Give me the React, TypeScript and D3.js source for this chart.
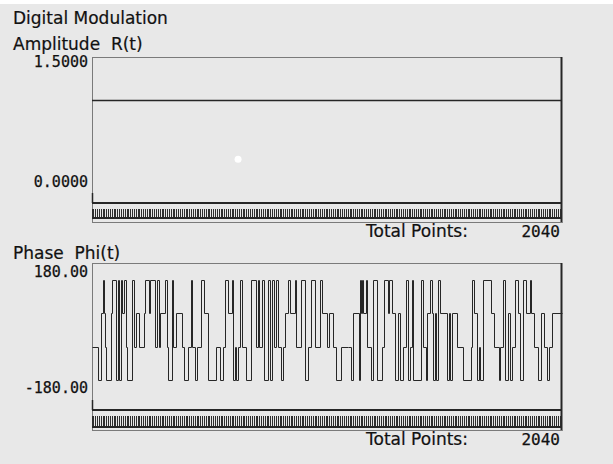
import React from "react";
import * as d3 from "d3";

const TOTAL_POINTS = 2040;
const amplitudeLevel = [1.0];
const amplitudeTicks = [1.5, 0.0];
const phaseTicks = [180, -180];
const whiteDot = [{ sample: 634, value: 0.31 }];

// [phase (deg), duration (samples)]
const phaseSegments: [number, number][] = [
  [-45, 25], [-135, 14], [45, 7], [135, 4], [45, 7], [-45, 3], [-135, 22], [45, 4], [135, 20],
  [-135, 6], [135, 6], [-135, 7], [135, 7], [45, 7], [135, 7], [-45, 7], [-135, 19], [135, 10],
  [-45, 7], [45, 14], [-45, 22], [45, 7], [135, 14], [45, 6], [135, 23], [-45, 7], [135, 7],
  [-45, 7], [45, 22], [135, 7], [-45, 7], [-135, 14], [135, 7], [-45, 10], [45, 29], [-45, 9],
  [-135, 17], [-45, 10], [135, 7], [-45, 12], [-135, 7], [-45, 17], [135, 14], [45, 19],
  [-135, 36], [-45, 14], [-135, 14], [-45, 10], [135, 12], [45, 17], [135, 7], [-135, 7],
  [-45, 4], [-135, 7], [-45, 12], [135, 7], [-45, 17], [-135, 22], [135, 22], [-45, 7],
  [135, 7], [-45, 10], [135, 12], [-135, 14], [135, 9], [-135, 9], [135, 9], [-45, 9],
  [135, 9], [-45, 12], [-135, 9], [-45, 9], [45, 14], [135, 7], [45, 22], [135, 7], [-45, 22],
  [135, 14], [-135, 14], [-45, 12], [135, 17], [-45, 25], [135, 7], [45, 22], [-45, 7],
  [45, 19], [-45, 14], [-135, 22], [-45, 29],
  [-45, 14], [-135, 7], [45, 25], [-135, 6], [135, 6], [45, 3], [135, 4], [45, 14], [135, 4],
  [-45, 17], [-135, 7], [135, 19], [-135, 20], [-45, 9], [135, 17], [45, 7], [135, 12],
  [45, 13], [-135, 12], [45, 12], [-135, 10], [-45, 14], [135, 7], [-135, 12], [-45, 6],
  [135, 7], [-135, 33], [135, 7], [-45, 14], [-135, 7], [45, 10], [135, 9], [45, 6],
  [-135, 7], [45, 7], [-135, 7], [135, 7], [45, 33], [-135, 7], [45, 7], [-135, 7], [45, 22],
  [-45, 26], [-135, 32], [-45, 7], [135, 7], [45, 14], [-135, 7], [-45, 7], [-135, 14],
  [135, 32], [45, 12], [-45, 22], [-135, 7], [-45, 14], [135, 7], [-135, 14], [45, 7],
  [-135, 7], [-45, 14], [135, 14], [45, 7], [-135, 14], [135, 12], [45, 17], [135, 7],
  [45, 14], [-45, 14], [-135, 14], [45, 14], [-45, 14], [-135, 7], [-45, 14], [45, 43],
];

const W = 613;
const H = 464;
const X0 = 92;
const X1 = 562;
const BG = "#e8e8e8";
const DARK = "#262626";
const TXT = "#111111";

const SANS = "'DejaVu Sans', sans-serif";
const MONO = "'DejaVu Sans Mono', monospace";

function Panel({
  top, bottom, domain, ticks, fmt, tickDy, children, stripe,
}: {
  top: number; bottom: number; domain: [number, number]; ticks: number[];
  fmt: (v: number) => string; tickDy: number[]; children: (y: d3.ScaleLinear<number, number>, x: d3.ScaleLinear<number, number>) => React.ReactNode;
  stripe: { barTop: number; barBottom: number; lineY: number; frameBottom: number; textY: number };
}) {
  const x = d3.scaleLinear().domain([0, TOTAL_POINTS]).range([X0, X1]);
  const y = d3.scaleLinear().domain(domain).range([bottom, top]);
  const barIdx = d3.range(0, TOTAL_POINTS, 8);
  return (
    <g>
      {ticks.map((t, i) => (
        <text key={i} x={88} y={y(t) + tickDy[i]} textAnchor="end" fontFamily={MONO} fontSize={15} fill={TXT} stroke={TXT} strokeWidth={0.25}>
          {fmt(t)}
        </text>
      ))}
      {/* frame */}
      <line x1={X0 + 0.5} x2={X0 + 0.5} y1={top} y2={stripe.frameBottom} stroke="#7a7a7a" />
      <line x1={X0} x2={X1} y1={top + 0.5} y2={top + 0.5} stroke="#7a7a7a" />
      <line x1={X1 - 0.5} x2={X1 - 0.5} y1={top} y2={stripe.frameBottom} stroke={DARK} strokeWidth={2} />
      <line x1={X0} x2={X1} y1={bottom} y2={bottom} stroke={DARK} strokeWidth={2} />
      <line x1={X0 + 0.5} x2={X0 + 0.5} y1={bottom - 10} y2={bottom} stroke={DARK} strokeWidth={1.5} />
      <g>{children(y, x)}</g>
      {/* stripe */}
      <g shapeRendering="crispEdges">
        {barIdx.map((i) => (
          <line key={i} x1={Math.floor(x(i)) + 0.5} x2={Math.floor(x(i)) + 0.5} y1={stripe.barTop} y2={stripe.barBottom} stroke="#2e2e2e" />
        ))}
      </g>
      <line x1={X0} x2={X1} y1={stripe.lineY} y2={stripe.lineY} stroke={DARK} strokeWidth={2} />
      <line x1={X0} x2={X1} y1={stripe.frameBottom - 0.5} y2={stripe.frameBottom - 0.5} stroke="#7a7a7a" />
      <text x={366} y={stripe.textY} fontFamily={SANS} fontSize={17} fill={TXT} stroke={TXT} strokeWidth={0.2}>Total Points:</text>
      <text x={560} y={stripe.textY} textAnchor="end" fontFamily={MONO} fontSize={16} fill={TXT} stroke={TXT} strokeWidth={0.25}>{TOTAL_POINTS}</text>
    </g>
  );
}

export default function App() {
  const pts: [number, number][] = [];
  let s = 0;
  for (const [p, d] of phaseSegments) {
    pts.push([s, p]);
    s += d;
  }
  pts.push([Math.max(s, TOTAL_POINTS), phaseSegments[phaseSegments.length - 1][0]]);

  return (
    <svg width={W} height={H} style={{ position: "absolute", left: 0, top: 0, background: BG }}>
      <rect x={0} y={0} width={W} height={H} fill={BG} />
      <rect x={0} y={0} width={W} height={4} fill="#ffffff" />
      <text x={13} y={24} fontFamily={SANS} fontSize={17} fill={TXT} stroke={TXT} strokeWidth={0.2}>Digital Modulation</text>
      <text x={13} y={50} fontFamily={SANS} fontSize={17} fill={TXT} stroke={TXT} strokeWidth={0.2} style={{ whiteSpace: "pre" }}>{"Amplitude  R(t)"}</text>
      <Panel
        top={57} bottom={203} domain={[-0.2, 1.5]} ticks={amplitudeTicks}
        fmt={(v) => v.toFixed(4)} tickDy={[10, 1]}
        stripe={{ barTop: 209, barBottom: 217, lineY: 218, frameBottom: 223, textY: 237 }}
      >
        {(y, x) => (
          <g>
            {amplitudeLevel.map((v, i) => (
              <line key={i} x1={x(0)} x2={x(TOTAL_POINTS)} y1={Math.round(y(v)) + 0.5} y2={Math.round(y(v)) + 0.5} stroke={DARK} strokeWidth={1.3} />
            ))}
            {whiteDot.map((d, i) => (
              <circle key={i} cx={x(d.sample)} cy={y(d.value)} r={3.5} fill="#ffffff" />
            ))}
          </g>
        )}
      </Panel>
      <text x={13} y={259} fontFamily={SANS} fontSize={17} fill={TXT} stroke={TXT} strokeWidth={0.2} style={{ whiteSpace: "pre" }}>{"Phase  Phi(t)"}</text>
      <Panel
        top={263} bottom={410} domain={[-216, 180]} ticks={phaseTicks}
        fmt={(v) => v.toFixed(2)} tickDy={[14, -4]}
        stripe={{ barTop: 416, barBottom: 426, lineY: 427, frameBottom: 431, textY: 445 }}
      >
        {(y, x) => {
          const line = d3.line<[number, number]>()
            .x((d) => Math.round(x(d[0])) + 0.5)
            .y((d) => Math.round(y(d[1])) + 0.5)
            .curve(d3.curveStepAfter);
          return <path d={line(pts) || ""} fill="none" stroke={DARK} strokeWidth={1} />;
        }}
      </Panel>
    </svg>
  );
}
